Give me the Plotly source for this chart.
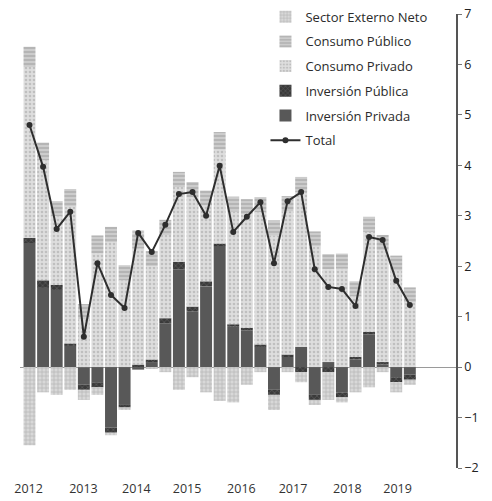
import plotly.graph_objects as go

quarters = ["2012T1","2012T2","2012T3","2012T4","2013T1","2013T2","2013T3","2013T4",
            "2014T1","2014T2","2014T3","2014T4","2015T1","2015T2","2015T3","2015T4",
            "2016T1","2016T2","2016T3","2016T4","2017T1","2017T2","2017T3","2017T4",
            "2018T1","2018T2","2018T3","2018T4","2019T1"]

inv_privada = [2.46, 1.57, 1.53, 0.42, -0.35, -0.30, -1.20, -0.75,
               -0.05, 0.10, 0.87, 1.94, 1.10, 1.60, 2.40, 0.80,
               0.73, 0.40, -0.45, 0.20, 0.40, -0.55, 0.10, -0.50,
               0.15, 0.65, 0.05, -0.20, -0.15]
inv_publica = [0.10, 0.15, 0.10, 0.05, -0.10, -0.10, -0.10, -0.05,
               0.05, 0.05, 0.10, 0.15, 0.10, 0.10, 0.05, 0.05,
               0.05, 0.05, -0.10, 0.05, -0.10, -0.10, -0.10, -0.10,
               0.05, 0.05, 0.05, -0.10, -0.10]
cons_privado = [3.39, 2.38, 1.36, 2.71, 0.95, 2.26, 2.48, 1.72,
                2.30, 1.85, 1.65, 1.48, 2.17, 1.50, 1.86, 2.23,
                2.25, 2.62, 2.61, 2.84, 3.07, 2.39, 1.84, 1.95,
                1.20, 1.98, 2.22, 1.91, 1.28]
cons_publico = [0.40, 0.35, 0.30, 0.35, 0.30, 0.35, 0.30, 0.30,
                0.30, 0.30, 0.30, 0.30, 0.30, 0.30, 0.35, 0.30,
                0.30, 0.30, 0.30, 0.30, 0.30, 0.30, 0.30, 0.30,
                0.30, 0.30, 0.30, 0.30, 0.30]
sector_externo = [-1.55, -0.50, -0.55, -0.45, -0.20, -0.15, -0.05, -0.05,
                  0.06, -0.02, -0.10, -0.45, -0.20, -0.50, -0.67, -0.70,
                  -0.35, -0.10, -0.30, -0.10, -0.20, -0.10, -0.55, -0.10,
                  -0.50, -0.40, -0.10, -0.20, -0.10]
total = [4.80, 3.97, 2.74, 3.08, 0.60, 2.06, 1.43, 1.17,
         2.66, 2.28, 2.82, 3.43, 3.47, 3.00, 3.99, 2.68,
         2.98, 3.27, 2.06, 3.29, 3.47, 1.94, 1.59, 1.55,
         1.21, 2.58, 2.52, 1.71, 1.23]

year_labels = ["2012","2013","2014","2015","2016","2017","2018","2019"]
year_label_pos = [-0.07, 3.97, 7.87, 11.6, 15.6, 19.4, 23.4, 27.1]
y_ticks = [-2, -1, 0, 1, 2, 3, 4, 5, 6, 7]

x = list(range(len(quarters)))
FONT = "Open Sans"

fig = go.Figure()

def bar(name, vals, bg, fg, shape, size, rank):
    fig.add_trace(go.Bar(
        x=x, y=vals, name=name, legendrank=rank, legendgroup=name,
        customdata=quarters,
        marker=dict(color=bg, line=dict(width=0),
                    pattern=dict(shape=shape, fgcolor=fg, bgcolor=bg, size=size, solidity=0.35)),
    ))

bar("Inversión Privada", inv_privada, "#585858", "#444444", "", 4, 5)
bar("Inversión Pública", inv_publica, "#3a3a3a", "#777777", "x", 4, 4)
bar("Consumo Privado", cons_privado, "#dedede", "#a0a0a0", ".", 4, 3)
bar("Consumo Público", cons_publico, "#cccccc", "#888888", "-", 4, 2)
bar("Sector Externo Neto", sector_externo, "#d8d8d8", "#999999", "+", 4, 1)

fig.add_trace(go.Scatter(
    x=x, y=total, name="Total", legendrank=6, legendgroup="Total",
    mode="lines+markers", line=dict(color="#2e2e2e", width=2),
    marker=dict(color="#2e2e2e", size=6),
))

fig.update_layout(
    width=492, height=501,
    margin=dict(l=19.5, r=36, t=14, b=33, autoexpand=False),
    paper_bgcolor="white", plot_bgcolor="white",
    barmode="relative", bargap=0.12,
    font=dict(family=FONT, color="#333333", size=12),
    legend=dict(x=0.563, y=1.027, xanchor="left", yanchor="top",
                bgcolor="rgba(0,0,0,0)", font=dict(size=13, color="#2b2b2b"),
                tracegroupgap=4.8, itemwidth=30),
    showlegend=True,
)
fig.update_xaxes(range=[-0.7, 31.4], tickmode="array", tickvals=year_label_pos,
                 ticktext=year_labels, showgrid=False, zeroline=False, showline=False,
                 ticks="", ticklabelstandoff=11, automargin=False,
                 tickfont=dict(size=12.5, color="#333"))
fig.update_yaxes(range=[-2, 7], side="right", tickmode="array", tickvals=y_ticks,
                 showgrid=False, zeroline=True, zerolinecolor="#9a9a9a", zerolinewidth=1,
                 showline=True, linecolor="#555555", linewidth=1.5, automargin=False,
                 ticks="outside", ticklen=4, tickcolor="#777",
                 tickfont=dict(size=12.5, color="#222"))

fig.write_html("out.html", config={"displayModeBar": False},
               post_script="document.body.style.margin='0';document.body.style.overflow='hidden';")
